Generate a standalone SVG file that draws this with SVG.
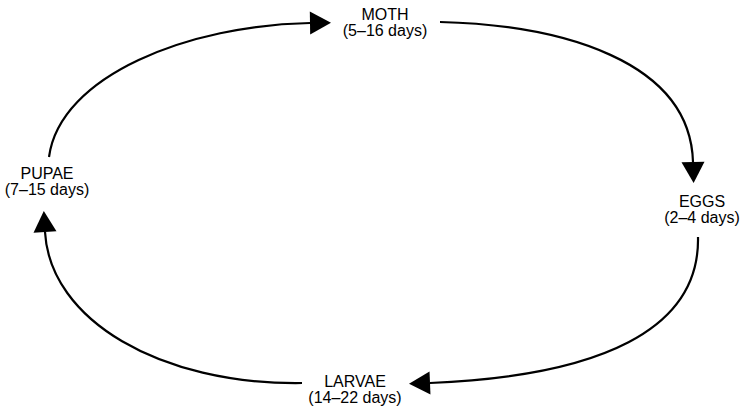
<svg xmlns="http://www.w3.org/2000/svg" width="746" height="409" viewBox="0 0 746 409">
<style>
text{font-family:"Liberation Sans",Arial,sans-serif;font-size:16px;fill:#000;text-anchor:middle}
.c{fill:none;stroke:#000;stroke-width:2.2;marker-end:url(#ah)}
</style>
<defs>
<marker id="ah" markerUnits="userSpaceOnUse" markerWidth="22" markerHeight="24" refX="0" refY="11.5" orient="auto" overflow="visible">
<path d="M0,0 L21,11.5 L0,23 z" fill="#000"/>
</marker>
</defs>
<rect width="746" height="409" fill="#fff"/>
<g id="connectors">
<path class="c" d="M49,157 C60,75 190,25 310,23"/>
<path class="c" d="M440,22 C560,25 690,60 693,162"/>
<path class="c" d="M698,237 C700,330 600,376 430,383"/>
<path class="c" d="M302,383 C160,385 50,320 45,232"/>
</g>
<g id="moth"><text x="385" y="20">MOTH</text><text x="385" y="36">(5–16 days)</text></g>
<g id="eggs"><text x="702" y="207">EGGS</text><text x="702" y="223">(2–4 days)</text></g>
<g id="larvae"><text x="355" y="387">LARVAE</text><text x="355" y="403">(14–22 days)</text></g>
<g id="pupae"><text x="47" y="179">PUPAE</text><text x="47" y="195">(7–15 days)</text></g>
</svg>
